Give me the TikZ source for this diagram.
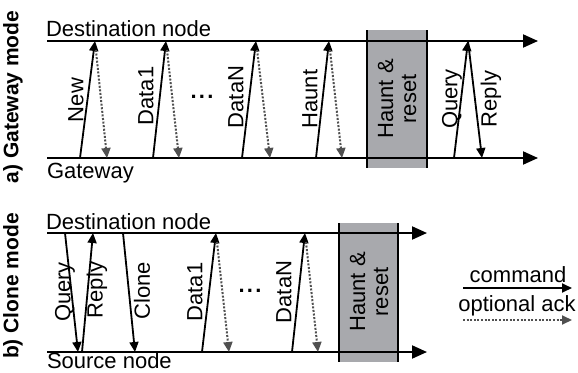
\documentclass[tikz,border=0pt]{standalone}
\usepackage{fontspec}
\setmainfont{Liberation Sans}
\usetikzlibrary{arrows.meta}
\definecolor{boxgray}{HTML}{A8A9AD}
\definecolor{ackgray}{HTML}{505050}
\begin{document}
\begin{tikzpicture}[x=1pt,y=-1pt,
  every node/.style={inner sep=0pt,outer sep=0pt,font=\fontsize{22}{23}\selectfont},
  timeline/.style={line width=2pt,-{Triangle[length=15pt,width=13pt]}},
  cmd/.style={line width=1.8pt,-{Triangle[length=10pt,width=9pt]}},
  ack/.style={line width=2pt,ackgray,dash pattern=on 2pt off 1.6pt,-{Triangle[length=10pt,width=9pt]},shorten <=9pt},
  vlabel/.style={rotate=90},
  modelabel/.style={rotate=90,font=\fontsize{21}{22}\selectfont\bfseries},
  hredge/.style={line width=2pt},
  dots/.style={font=\fontsize{22}{23}\selectfont\bfseries}]
\useasboundingbox (0,0) rectangle (578,372);

% ---------- a) Gateway mode ----------
\coordinate (aTL) at (47,41);  \coordinate (aTR) at (538,41);
\coordinate (aBL) at (47,158); \coordinate (aBR) at (538,158);
\fill[boxgray] (367,30) rectangle (427,168);
\draw[hredge] (367,30) -- (367,168);
\draw[hredge] (427,30) -- (427,168);
\draw[timeline] (aTL) -- (aTR);
\draw[timeline] (aBL) -- (aBR);
\node[anchor=base west] (adest) at (46,36.5) {Destination node};
\node[anchor=base west] (agw) at (47,178) {Gateway};
\node[modelabel] (amode) at (13,97) {a) Gateway mode};

% command / ack pairs
\coordinate (aN0) at (80,158);  \coordinate (aN1) at (95,41);  \coordinate (aN2) at (107,158);
\coordinate (aD0) at (153,158); \coordinate (aD1) at (166,41); \coordinate (aD2) at (179,158);
\coordinate (aM0) at (242,158); \coordinate (aM1) at (256,41); \coordinate (aM2) at (270,158);
\coordinate (aH0) at (316,158); \coordinate (aH1) at (329,41); \coordinate (aH2) at (342,158);
\coordinate (aQ0) at (454,158); \coordinate (aQ1) at (468,41); \coordinate (aQ2) at (482,158);
\draw[cmd] (aN0) -- (aN1);  \draw[ack] (aN1) -- (aN2);
\draw[cmd] (aD0) -- (aD1);  \draw[ack] (aD1) -- (aD2);
\draw[cmd] (aM0) -- (aM1);  \draw[ack] (aM1) -- (aM2);
\draw[cmd] (aH0) -- (aH1);  \draw[ack] (aH1) -- (aH2);
\draw[cmd] (aQ0) -- (aQ1);  \draw[cmd] (aQ1) -- (aQ2);

\node[vlabel] (lNew) at (76,100) {New};
\node[vlabel] (lD1) at (146,96) {Data1};
\node[dots] (ldots) at (202,97) {.\hspace{2.2pt}.\hspace{2.2pt}.};
\node[vlabel] (lDN) at (236,97) {DataN};
\node[vlabel] (lH) at (310,99) {Haunt};
\node[vlabel,align=center] (lHR) at (397,99) {Haunt \&\\reset};
\node[vlabel] (lQ) at (452,99) {Query};
\node[vlabel] (lR) at (491,99) {Reply};

% ---------- b) Clone mode ----------
\coordinate (bTL) at (47,233);  \coordinate (bTR) at (427,233);
\coordinate (bBL) at (47,352);  \coordinate (bBR) at (427,352);
\fill[boxgray] (339,223) rectangle (398,362);
\draw[hredge] (339,223) -- (339,362);
\draw[hredge] (398,223) -- (398,362);
\draw[timeline] (bTL) -- (bTR);
\draw[timeline] (bBL) -- (bBR);
\node[anchor=base west] (bdest) at (46,229.5) {Destination node};
\node[anchor=base west] (bsrc) at (47,368) {Source node};
\node[modelabel] (bmode) at (13,286) {b) Clone mode};

\coordinate (bQ0) at (65,233);  \coordinate (bQ1) at (78,352);
\coordinate (bR0) at (82,352);  \coordinate (bR1) at (93,233);
\coordinate (bC0) at (123,233); \coordinate (bC1) at (135,352);
\coordinate (bD0) at (202,352); \coordinate (bD1) at (216,233); \coordinate (bD2) at (229,352);
\coordinate (bM0) at (292,352); \coordinate (bM1) at (305,233); \coordinate (bM2) at (318,352);
\draw[cmd] (bQ0) -- (bQ1);
\draw[cmd] (bR0) -- (bR1);
\draw[cmd] (bC0) -- (bC1);
\draw[cmd] (bD0) -- (bD1);  \draw[ack] (bD1) -- (bD2);
\draw[cmd] (bM0) -- (bM1);  \draw[ack] (bM1) -- (bM2);

\node[vlabel] (mQ) at (65,292) {Query};
\node[vlabel] (mR) at (97,290) {Reply};
\node[vlabel] (mC) at (142,291) {Clone};
\node[vlabel] (mD1) at (195,292) {Data1};
\node[dots] (mdots) at (250,291) {.\hspace{2.2pt}.\hspace{2.2pt}.};
\node[vlabel] (mDN) at (284,292) {DataN};
\node[vlabel,align=center] (mHR) at (369,292) {Haunt \&\\reset};

% ---------- legend ----------
\coordinate (lc0) at (463,288); \coordinate (lc1) at (572,288);
\coordinate (la0) at (463,320); \coordinate (la1) at (572,320);
\draw[cmd] (lc0) -- (lc1);
\draw[ack,shorten <=0pt] (la0) -- (la1);
\node[anchor=base] (tcmd) at (518,282.5) {command};
\node[anchor=base] (tack) at (517,311.5) {optional ack};
\end{tikzpicture}
\end{document}
